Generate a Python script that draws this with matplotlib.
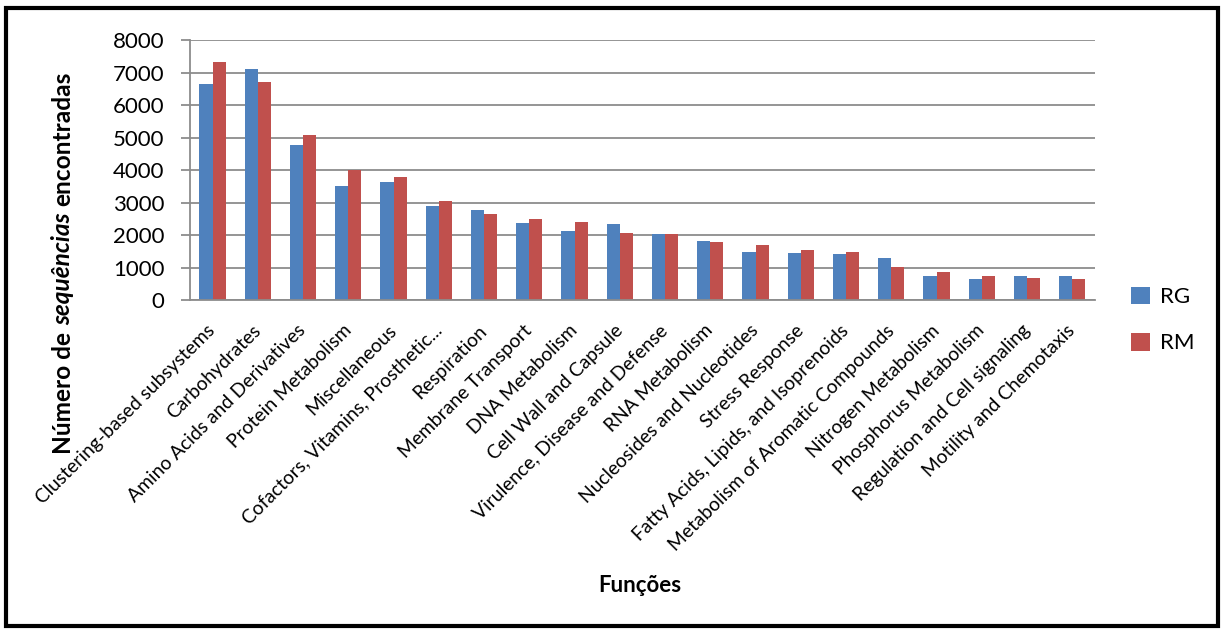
import matplotlib
matplotlib.use('Agg')
import matplotlib.pyplot as plt
import numpy as np
from matplotlib.patches import Rectangle

plt.rcParams['font.family'] = ['Lato', 'DejaVu Sans']

# ---- data ----
categories = ['Clustering-based subsystems', 'Carbohydrates',
              'Amino Acids and Derivatives', 'Protein Metabolism',
              'Miscellaneous', 'Cofactors, Vitamins, Prosthetic...',
              'Respiration', 'Membrane Transport', 'DNA Metabolism',
              'Cell Wall and Capsule', 'Virulence, Disease and Defense',
              'RNA Metabolism', 'Nucleosides and Nucleotides',
              'Stress Response', 'Fatty Acids, Lipids, and Isoprenoids',
              'Metabolism of Aromatic Compounds', 'Nitrogen Metabolism',
              'Phosphorus Metabolism', 'Regulation and Cell signaling',
              'Motility and Chemotaxis']
rg = [6650, 7100, 4780, 3520, 3630, 2890, 2780, 2370, 2130, 2330,
      2020, 1830, 1470, 1450, 1410, 1290, 730, 650, 730, 740]
rm = [7330, 6700, 5090, 3990, 3800, 3040, 2660, 2480, 2400, 2050,
      2030, 1800, 1690, 1530, 1470, 1010, 870, 730, 670, 650]
yticks = [0, 1000, 2000, 3000, 4000, 5000, 6000, 7000, 8000]

c_rg = '#4F81BD'
c_rm = '#C0504D'

fig = plt.figure(figsize=(12.24, 6.3), dpi=100)
ax = fig.add_axes([0.1552, 0.5238, 0.7394, 0.4127])

x = np.arange(len(categories))
w = 0.29
ax.bar(x - w / 2, rg, width=w, color=c_rg, label='RG', zorder=2)
ax.bar(x + w / 2, rm, width=w, color=c_rm, label='RM', zorder=2)

ax.set_xlim(-0.5, len(categories) - 0.5)
ax.set_ylim(0, 8000)
ax.set_yticks(yticks)
ax.set_yticklabels([str(v) for v in yticks], fontsize=16)
ax.yaxis.grid(True, color='#8c8c8c', lw=1.3, zorder=0)
ax.set_axisbelow(True)
ax.tick_params(axis='y', length=6.5, width=1.3, color='#8c8c8c', pad=12)
ax.tick_params(axis='x', length=0, pad=20)

ax.set_xticks(x)
ax.set_xticklabels(categories, rotation=45, ha='right', va='center',
                   rotation_mode='anchor', fontsize=13.9)

for s in ['top', 'right']:
    ax.spines[s].set_visible(False)
for s in ['left', 'bottom']:
    ax.spines[s].set_color('#8c8c8c')
    ax.spines[s].set_linewidth(1.3)

# legend
ax.legend(loc='center left', bbox_to_anchor=(1.028, -0.077), frameon=False,
          fontsize=16, handlelength=0.85, handleheight=0.85, borderpad=0,
          labelspacing=1.15, handletextpad=0.45)

# y label, with the middle word in bold italic
parts = [('Número de', 'normal'), ('sequências', 'italic'),
         ('encontradas', 'normal')]
gap = 7  # px between words
fig.canvas.draw()
r = fig.canvas.get_renderer()
texts = []
for s, st in parts:
    t = fig.text(0.0515, 0.0, s, rotation=90, ha='center', va='bottom',
                 fontsize=17.6, fontweight='bold', style=st)
    texts.append(t)
heights = [t.get_window_extent(r).height for t in texts]
total = sum(heights) + gap * (len(parts) - 1)
H = fig.bbox.height
y = (630 - 263) - total / 2
for t, h in zip(texts, heights):
    t.set_y(y / H)
    y += h + gap

fig.text(0.523, 0.07, 'Funções', ha='center', va='center', fontsize=16,
         fontweight='bold')

# outer frame
fig.patches.append(Rectangle((0.005, 0.007), 0.99, 0.98,
                             transform=fig.transFigure, fill=False,
                             edgecolor='black', lw=3))

fig.savefig('out.png', dpi=100)
